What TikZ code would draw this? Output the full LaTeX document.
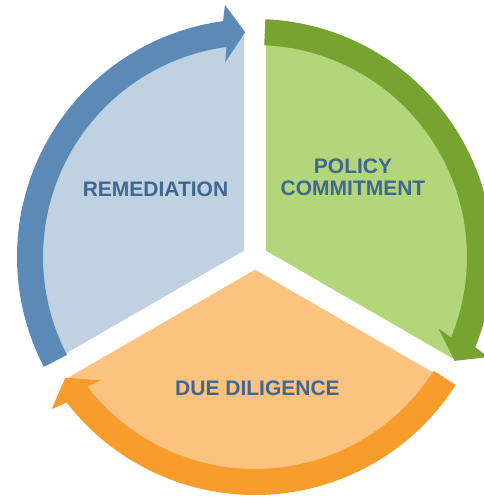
\documentclass[tikz,border=0pt]{standalone}
\usepackage{fontspec}
\setmainfont{Liberation Sans}
\definecolor{blueband}{HTML}{5B8AB6}
\definecolor{bluefill}{HTML}{C0D1E2}
\definecolor{greenband}{HTML}{77A330}
\definecolor{greenfill}{HTML}{B3D67A}
\definecolor{orangeband}{HTML}{F89D2B}
\definecolor{orangefill}{HTML}{FBC37F}
\definecolor{labelblue}{HTML}{3F6792}
\begin{document}
\begin{tikzpicture}[x=1pt,y=1pt,
  sector/.style={draw=none},
  band/.style={draw=none},
  steplabel/.style={font=\fontsize{21}{22}\selectfont\bfseries,
    text=labelblue, inner sep=0pt, align=center}]
\useasboundingbox (-255,-241) rectangle (228,257);

% three wedges, separated by a white gap 22 units wide
\path[sector, fill=bluefill]   (150:12.7) -- (92.84:222)
  arc[start angle=92.84, end angle=207.16, radius=222] -- cycle;
\path[sector, fill=greenfill]  (30:12.7) -- (-27.16:222)
  arc[start angle=-27.16, end angle=87.16, radius=222] -- cycle;
\path[sector, fill=orangefill] (270:12.7) -- (212.84:222)
  arc[start angle=212.84, end angle=327.16, radius=222] -- cycle;

% curved arrows running clockwise round the rim
\foreach \rot/\col in {0/blueband, -120/greenband, 120/orangeband}{
  \begin{scope}[rotate=\rot]
    \path[band, fill=\col] (207.5:238)
      arc[start angle=207.5, end angle=97.7, radius=238]
      -- (96.8:254) -- (92.5:225) -- (98.7:197) -- (97.7:212)
      arc[start angle=97.7, end angle=207.5, radius=212] -- cycle;
  \end{scope}
}

% labels (base anchor = baseline of the last line)
\node[steplabel, anchor=base] (remediation) at (-99.5,60.5) {REMEDIATION};
\node[steplabel, anchor=base] (policy) at (98,62) {POLICY\\COMMITMENT};
\node[steplabel, anchor=base] (diligence) at (2.5,-138) {DUE DILIGENCE};
\end{tikzpicture}
\end{document}
